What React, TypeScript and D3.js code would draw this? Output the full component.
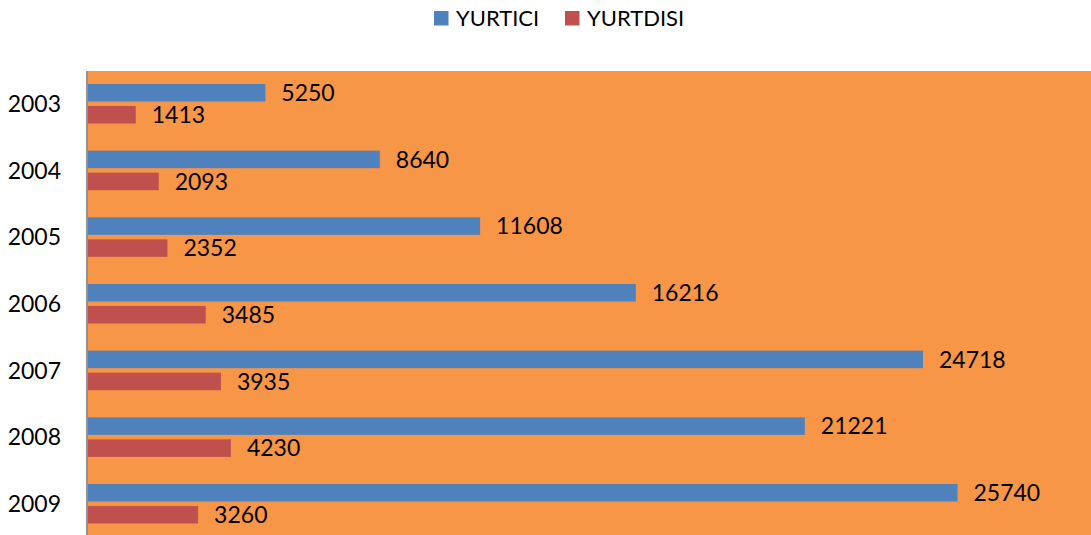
import React from "react";
import * as d3 from "d3";

const years = ["2003", "2004", "2005", "2006", "2007", "2008", "2009"];
const yurtici = [5250, 8640, 11608, 16216, 24718, 21221, 25740];
const yurtdisi = [1413, 2093, 2352, 3485, 3935, 4230, 3260];
const seriesNames = ["YURTICI", "YURTDISI"];
const colors = ["#4F81BD", "#C0504D"];

const W = 1091;
const H = 535;
const FONT = "Lato, 'Open Sans', sans-serif";

export default function App() {
  const x = d3.scaleLinear().domain([0, 30000]).range([88, 1101.4]);
  const y = d3.scaleBand<string>().domain(years).range([71, 71 + 7 * 66.67]).padding(0);
  const bw = y.bandwidth();
  const barH = 17.5;
  const offs = [bw * 0.195, bw * 0.525];
  const all = [yurtici, yurtdisi];

  return (
    <svg width={W} height={H} style={{ position: "absolute", left: 0, top: 0, display: "block" }}>
      <rect x={0} y={0} width={W} height={H} fill="#ffffff" />
      <rect x={88} y={71} width={W - 88} height={H - 71} fill="#F79646" />
      <line x1={87} x2={87} y1={71} y2={H} stroke="#868686" strokeWidth={1.8} />
      {years.map((yr, i) => {
        const b = y(yr) as number;
        return (
          <g key={yr}>
            <text
              x={61}
              y={b + bw / 2 + 7.8}
              textAnchor="end"
              fontFamily={FONT}
              fontSize={23}
              fill="#000"
            >
              {yr}
            </text>
            {all.map((vals, s) => (
              <g key={s}>
                <rect
                  x={x(0)}
                  y={b + offs[s]}
                  width={x(vals[i]) - x(0)}
                  height={barH}
                  fill={colors[s]}
                />
                <text
                  x={x(vals[i]) + 16}
                  y={b + offs[s] + barH / 2 + 8.3}
                  fontFamily={FONT}
                  fontSize={23}
                  fill="#000"
                >
                  {vals[i]}
                </text>
              </g>
            ))}
          </g>
        );
      })}
      {seriesNames.map((n, s) => {
        const lx = [434, 565][s];
        return (
          <g key={n}>
            <rect x={lx} y={11} width={14.5} height={14.5} fill={colors[s]} />
            <text x={lx + 22} y={25.5} fontFamily={FONT} fontSize={22} fill="#000">
              {n}
            </text>
          </g>
        );
      })}
    </svg>
  );
}
